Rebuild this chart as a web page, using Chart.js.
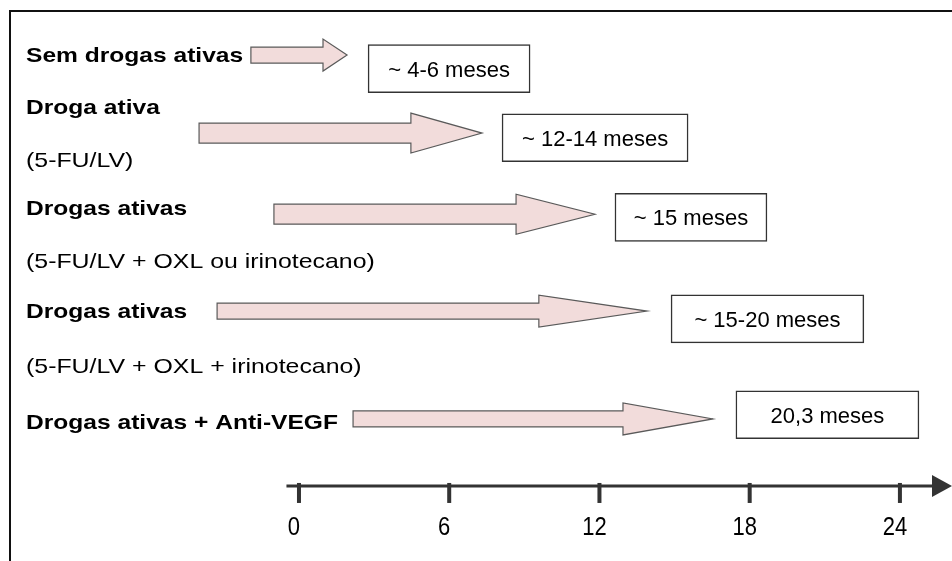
<!DOCTYPE html>
<html>
<head>
<meta charset="utf-8">
<script src="https://cdn.jsdelivr.net/npm/chart.js@4"></script>
<style>
  html, body { margin: 0; padding: 0; background: #ffffff; }
  #wrap { width: 952px; height: 561px; }
</style>
</head>
<body>
<div id="wrap"><canvas id="c" width="952" height="561"></canvas></div>
<script>
// ---- data (x in months, y in "rows") ----
const timelineTicks = [0, 6, 12, 18, 24];
const timelineTickLabels = ['0', '6', '12', '18', '24'];

const rowLabels = ['Sem drogas ativas', 'Droga ativa', '(5-FU/LV)', 'Drogas ativas',
  '(5-FU/LV + OXL ou irinotecano)', 'Drogas ativas', '(5-FU/LV + OXL + irinotecano)',
  'Drogas ativas + Anti-VEGF'];
const rowLabelRows = [0, 0.99, 2.0, 2.93, 3.94, 4.89, 5.93, 7];
const rowLabelBold = [true, true, false, true, false, true, false, true];

const arrowRows = [0.01, 1.50, 3.05, 4.90, 6.96];
const arrowStart = [-1.92, -3.99, -1.0, -3.27, 2.16];
const arrowHeadStart = [0.96, 4.47, 8.67, 9.58, 12.94];
const arrowEnd = [1.92, 7.31, 11.82, 13.9, 16.53];

const boxLabels = ['~ 4-6 meses', '~ 12-14 meses', '~ 15 meses', '~ 15-20 meses', '20,3 meses'];
const boxRows = [0.27, 1.59, 3.11, 5.05, 6.88];
const boxStart = [2.76, 8.11, 12.62, 14.86, 17.45];
const boxEnd = [9.23, 15.54, 18.69, 22.56, 24.76];

const timelineRow = 8.24;
const timelineLabelRow = 9.0;
const timelineStart = -0.5;

// ---- styles ----
const FONT = "'Liberation Sans', Arial, Helvetica, sans-serif";
const ARROW_FILL = '#f2dcdb';
const ARROW_STROKE = '#5a5a5a';
const ARROW_HALF = [[8, 16], [10, 20], [10, 20], [8, 16], [8, 16]];

function stretchedText(ctx, text, x, y, font, sx, sy, align) {
  ctx.save();
  ctx.font = font;
  ctx.textAlign = align;
  ctx.textBaseline = 'alphabetic';
  ctx.translate(x, y);
  ctx.scale(sx, sy);
  ctx.fillText(text, 0, 0);
  ctx.restore();
}

const diagramPlugin = {
  id: 'diagram',
  beforeDatasetsDraw(chart) {
    const ctx = chart.ctx, xs = chart.scales.x, ys = chart.scales.y, a = chart.chartArea;
    ctx.save();
    // frame
    ctx.strokeStyle = '#111';
    ctx.lineWidth = 2;
    ctx.beginPath();
    ctx.moveTo(a.right, 11);
    ctx.lineTo(10, 11);
    ctx.lineTo(10, a.bottom);
    ctx.stroke();
    // left labels
    ctx.fillStyle = '#000';
    rowLabels.forEach((t, i) => {
      const y = ys.getPixelForValue(rowLabelRows[i]);
      const bold = rowLabelBold[i];
      const size = 21;
      stretchedText(ctx, t, 26, y + size * 0.716 / 2, (bold ? 'bold ' : '') + size + 'px ' + FONT,
        bold ? 1.17 : 1.185, 1.0, 'left');
    });
    // timeline
    const ty = ys.getPixelForValue(timelineRow);
    ctx.strokeStyle = '#333';
    ctx.fillStyle = '#333';
    ctx.lineWidth = 3;
    ctx.beginPath();
    ctx.moveTo(xs.getPixelForValue(timelineStart), ty);
    ctx.lineTo(a.right - 15, ty);
    ctx.stroke();
    ctx.beginPath();
    ctx.moveTo(a.right - 20, ty - 11);
    ctx.lineTo(a.right, ty);
    ctx.lineTo(a.right - 20, ty + 11);
    ctx.closePath();
    ctx.fill();
    const ly = ys.getPixelForValue(timelineLabelRow);
    timelineTicks.forEach((m, i) => {
      const x = xs.getPixelForValue(m);
      ctx.fillStyle = '#333';
      ctx.fillRect(x - 2, ty - 3, 4, 20);
      ctx.fillStyle = '#000';
      stretchedText(ctx, timelineTickLabels[i], x - 5, ly + 22 * 0.716 * 1.13 / 2, '22px ' + FONT, 1.0, 1.13, 'center');
    });
    ctx.restore();
  },
  afterDatasetsDraw(chart) {
    const ctx = chart.ctx, xs = chart.scales.x;
    ctx.save();
    // arrows
    const arrows = chart.getDatasetMeta(0).data;
    arrows.forEach((el, i) => {
      const p = el.getProps(['x', 'y', 'base'], true);
      const x0 = p.base, x1 = p.x, y = p.y;
      const hx = xs.getPixelForValue(arrowHeadStart[i]);
      const [b, h] = ARROW_HALF[i];
      ctx.beginPath();
      ctx.moveTo(x0, y - b);
      ctx.lineTo(hx, y - b);
      ctx.lineTo(hx, y - h);
      ctx.lineTo(x1, y);
      ctx.lineTo(hx, y + h);
      ctx.lineTo(hx, y + b);
      ctx.lineTo(x0, y + b);
      ctx.closePath();
      ctx.fillStyle = ARROW_FILL;
      ctx.fill();
      ctx.strokeStyle = ARROW_STROKE;
      ctx.lineWidth = 1.2;
      ctx.stroke();
    });
    // box texts
    const boxes = chart.getDatasetMeta(1).data;
    ctx.fillStyle = '#000';
    boxes.forEach((el, i) => {
      const p = el.getProps(['x', 'y', 'base'], true);
      const cx = (p.x + p.base) / 2;
      stretchedText(ctx, boxLabels[i], cx, p.y + 22 * 0.716 / 2, '22px ' + FONT, 1.0, 1.0, 'center');
    });
    ctx.restore();
  }
};

new Chart(document.getElementById('c'), {
  type: 'bar',
  data: {
    datasets: [
      {
        label: 'arrows',
        data: arrowRows.map((r, i) => ({ x: [arrowStart[i], arrowEnd[i]], y: r })),
        backgroundColor: 'rgba(0,0,0,0)',
        borderWidth: 0,
        barThickness: 40,
        grouped: false
      },
      {
        label: 'boxes',
        data: boxRows.map((r, i) => ({ x: [boxStart[i], boxEnd[i]], y: r })),
        backgroundColor: '#ffffff',
        borderColor: '#333333',
        borderWidth: 1.5,
        borderSkipped: false,
        barThickness: 48,
        grouped: false
      }
    ]
  },
  options: {
    indexAxis: 'y',
    responsive: false,
    animation: false,
    events: [],
    layout: { padding: 0 },
    plugins: { legend: { display: false }, tooltip: { enabled: false }, title: { display: false } },
    scales: {
      x: { type: 'linear', min: -11.94, max: 26.08, display: false, offset: false },
      y: { type: 'linear', min: -1.041, max: 9.673, reverse: true, display: false, offset: false }
    }
  },
  plugins: [diagramPlugin]
});
</script>
</body>
</html>
